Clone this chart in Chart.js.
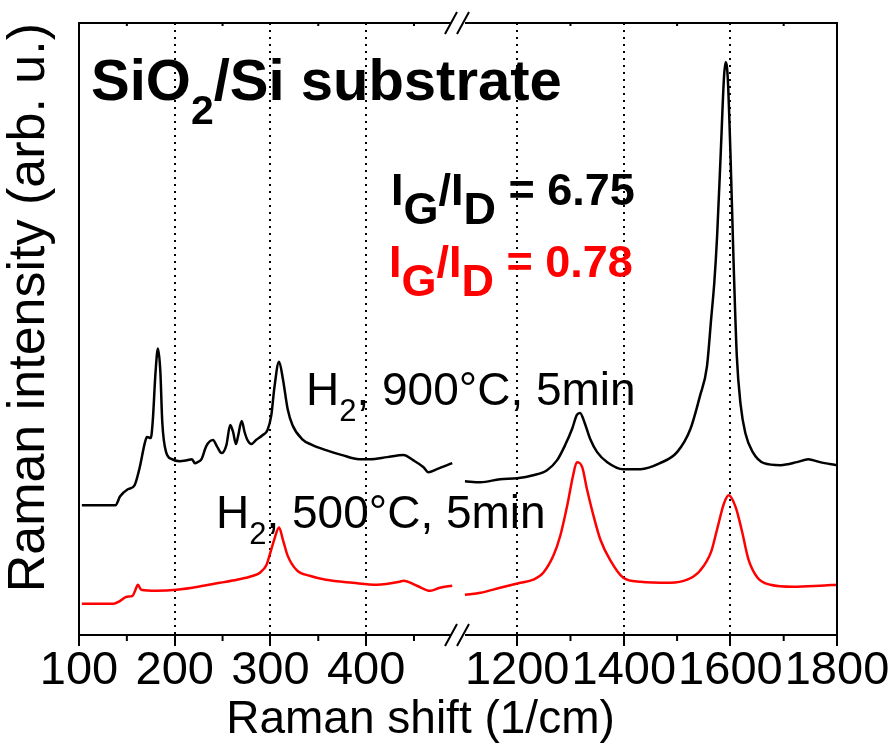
<!DOCTYPE html>
<html>
<head>
<meta charset="utf-8">
<script src="https://cdn.jsdelivr.net/npm/chart.js@4.4.1/dist/chart.umd.min.js"></script>
<style>
  html, body { margin: 0; padding: 0; background: #fff; }
  canvas { display: block; }
</style>
</head>
<body>
<canvas id="ramanChart" width="893" height="744"></canvas>
<script>
// values: Raman shift (1/cm) and intensity (arb. u.)
const black900LowShift = [103, 138, 143, 151, 158, 163, 169, 171, 175, 177, 180, 182.5, 185, 187, 191, 197, 205, 213, 218, 221, 224, 228, 233, 240, 244, 249, 254, 258, 261, 264, 266, 270, 273, 276, 280, 285, 292, 297, 301, 304, 309, 313, 318, 323, 333, 344, 358, 375, 393, 404, 422, 439, 449, 460, 465, 474, 490];
const black900LowInt = [129, 129, 138, 145, 149, 165, 192, 197, 196, 212, 262, 285, 262, 212, 182, 175, 173, 174, 175, 171, 172, 175, 188, 194, 188, 181, 189, 209, 202, 190, 197, 213, 202, 194, 190, 194, 199, 204, 219, 245, 272, 255, 225, 209, 195, 189, 184, 179, 175, 175, 177, 179, 174, 167, 162, 165, 171];

const black900HighShift = [1102, 1131, 1168, 1200, 1230, 1256, 1275, 1290, 1303, 1312, 1318, 1326, 1337, 1350, 1369, 1399, 1431, 1468, 1500, 1525, 1543, 1556, 1564, 1570, 1575, 1582, 1588, 1591, 1595, 1600, 1606, 1612, 1619, 1628, 1642, 1663, 1694, 1725, 1746, 1768, 1800];
const black900HighInt = [153, 152, 155, 156, 159, 164, 174, 189, 205, 219, 221, 212, 195, 182, 172, 165, 165, 171, 182, 205, 238, 267, 315, 352, 396, 481, 555, 570, 555, 481, 371, 278, 230, 201, 182, 171, 169, 172, 175, 172, 169];

const red500LowShift = [103, 136, 143, 150, 156, 159, 161.5, 165, 181, 202, 230, 247, 265, 282, 289, 296, 299, 304, 309, 313, 318, 328, 341, 358, 386, 411, 435, 439, 453, 467, 477, 490];
const red500LowInt = [31, 31, 34, 38, 39, 45, 50, 45, 44, 45, 49, 52, 55, 59, 62, 70, 79, 95, 107, 95, 79, 64, 59, 55, 52, 50, 53, 54, 49, 44, 47, 49];

const red500HighShift = [1102, 1131, 1168, 1206, 1230, 1249, 1268, 1281, 1294, 1305, 1312, 1322, 1331, 1343, 1356, 1374, 1399, 1431, 1487, 1519, 1543, 1564, 1575, 1588, 1597, 1610, 1621, 1634, 1651, 1675, 1718, 1768, 1800];
const red500HighInt = [40, 42, 47, 52, 55, 62, 79, 99, 129, 159, 172, 167, 145, 119, 95, 75, 57, 53, 52, 55, 64, 83, 105, 131, 139, 127, 105, 75, 57, 50, 48, 49, 50];

const lowTicks = [100, 200, 300, 400];
const lowMinorTicks = [150, 250, 350, 450];
const highTicks = [1200, 1400, 1600, 1800];
const highMinorTicks = [1300, 1500, 1700];

const FAMILY = "'Liberation Sans', Arial, Helvetica, sans-serif";

function toPoints(xs, ys) {
    return xs.map((x, i) => ({ x: x, y: ys[i] }));
}

function drawRuns(ctx, x, y, runs, color) {
    ctx.fillStyle = color;
    ctx.textAlign = 'left';
    ctx.textBaseline = 'alphabetic';
    for (const r of runs) {
        ctx.font = r.font;
        ctx.fillText(r.text, x, y + (r.dy || 0));
        x += ctx.measureText(r.text).width;
    }
}

const frameAndNotes = {
    id: 'frameAndNotes',
    afterDraw(chart) {
        const { ctx, chartArea: { left, top, right, bottom }, scales } = chart;
        ctx.save();
        ctx.strokeStyle = '#000';
        ctx.lineWidth = 2;
        ctx.strokeRect(left, top, right - left, bottom - top);

        // minor ticks on the bottom axis, small inner ticks on top
        ctx.beginPath();
        lowMinorTicks.forEach(v => {
            const px = scales.xLow.getPixelForValue(v);
            ctx.moveTo(px, bottom); ctx.lineTo(px, bottom + 6);
            ctx.moveTo(px, top); ctx.lineTo(px, top + 3);
        });
        highMinorTicks.forEach(v => {
            const px = scales.xHigh.getPixelForValue(v);
            ctx.moveTo(px, bottom); ctx.lineTo(px, bottom + 6);
            ctx.moveTo(px, top); ctx.lineTo(px, top + 3);
        });
        ctx.stroke();

        // axis break marks
        const bx = scales.xLow.right;
        [top, bottom].forEach(yy => {
            ctx.fillStyle = '#fff';
            ctx.fillRect(bx - 7, yy - 2, 14, 4);
            ctx.beginPath();
            ctx.moveTo(bx - 13, yy + 11); ctx.lineTo(bx - 1, yy - 11);
            ctx.moveTo(bx - 1, yy + 11); ctx.lineTo(bx + 11, yy - 11);
            ctx.stroke();
        });

        // annotations
        const big = 'bold 58px ' + FAMILY;
        drawRuns(ctx, 91, 100, [
            { text: 'SiO', font: big },
            { text: '2', font: 'bold 41px ' + FAMILY, dy: 24 },
            { text: '/Si substrate', font: big }
        ], '#000');

        const ratioFont = 'bold 45px ' + FAMILY;
        drawRuns(ctx, 391, 205, [
            { text: 'I', font: ratioFont },
            { text: 'G', font: ratioFont, dy: 19 },
            { text: '/I', font: ratioFont },
            { text: 'D', font: ratioFont, dy: 19 },
            { text: ' = 6.75', font: ratioFont }
        ], '#000');
        drawRuns(ctx, 389, 277, [
            { text: 'I', font: ratioFont },
            { text: 'G', font: ratioFont, dy: 19 },
            { text: '/I', font: ratioFont },
            { text: 'D', font: ratioFont, dy: 19 },
            { text: ' = 0.78', font: ratioFont }
        ], '#ff0000');

        const labelFont = '46px ' + FAMILY;
        const subFont = '31px ' + FAMILY;
        drawRuns(ctx, 306, 405, [
            { text: 'H', font: labelFont },
            { text: '2', font: subFont, dy: 16 },
            { text: ', 900°C, 5min', font: labelFont }
        ], '#000');
        drawRuns(ctx, 216, 528, [
            { text: 'H', font: labelFont },
            { text: '2', font: subFont, dy: 16 },
            { text: ', 500°C, 5min', font: labelFont }
        ], '#000');
        ctx.restore();
    }
};

function xAxis(min, max, ticks) {
    return {
        type: 'linear',
        position: 'bottom',
        stack: 'shift',
        stackWeight: 1,
        min: min,
        max: max,
        afterBuildTicks: scale => {
            scale.ticks = ticks.map(v => ({ value: v }));
        },
        ticks: {
            color: '#000',
            padding: 2,
            maxRotation: 0,
            autoSkip: false,
            font: { family: FAMILY, size: 47, lineHeight: 1 },
            callback: v => String(v)
        },
        grid: {
            color: ctx => (ctx.tick && (ctx.tick.value === 100 || ctx.tick.value === 1800)) ? 'rgba(0,0,0,0)' : '#000',
            lineWidth: 2,
            tickColor: '#000',
            tickWidth: 2,
            tickLength: 11
        },
        border: {
            display: false,
            dash: [2, 5]
        }
    };
}

const ctx = document.getElementById('ramanChart').getContext('2d');

new Chart(ctx, {
    type: 'line',
    data: {
        datasets: [{
            label: 'H2, 900°C, 5min',
            data: toPoints(black900LowShift, black900LowInt),
            xAxisID: 'xLow',
            borderColor: '#000',
            borderWidth: 2.5
        },
        {
            label: 'H2, 900°C, 5min',
            data: toPoints(black900HighShift, black900HighInt),
            xAxisID: 'xHigh',
            borderColor: '#000',
            borderWidth: 2.5
        },
        {
            label: 'H2, 500°C, 5min',
            data: toPoints(red500LowShift, red500LowInt),
            xAxisID: 'xLow',
            borderColor: '#ff0000',
            borderWidth: 2.5
        },
        {
            label: 'H2, 500°C, 5min',
            data: toPoints(red500HighShift, red500HighInt),
            xAxisID: 'xHigh',
            borderColor: '#ff0000',
            borderWidth: 2.5
        }]
    },
    options: {
        responsive: false,
        animation: false,
        events: [],
        datasets: {
            line: {
                pointRadius: 0,
                fill: false,
                cubicInterpolationMode: 'monotone'
            }
        },
        layout: {
            padding: { left: 4, right: 56, top: 23, bottom: 0 }
        },
        scales: {
            xLow: xAxis(100, 496, lowTicks),
            xHigh: xAxis(1089, 1800, highTicks),
            y: {
                min: 0,
                max: 609,
                ticks: { display: false },
                grid: { display: false, drawTicks: false },
                border: { display: false },
                title: {
                    display: true,
                    align: 'end',
                    text: 'Raman intensity (arb. u.)',
                    color: '#000',
                    font: { family: FAMILY, size: 52, lineHeight: 1 },
                    padding: { top: 0, bottom: 23 }
                }
            }
        },
        plugins: {
            legend: { display: false },
            tooltip: { enabled: false },
            title: {
                display: true,
                position: 'bottom',
                text: 'Raman shift (1/cm)',
                color: '#000',
                font: { family: FAMILY, size: 46, weight: 'normal', lineHeight: 1 },
                padding: { top: 0, bottom: 1 }
            }
        }
    },
    plugins: [frameAndNotes]
});
</script>
</body>
</html>
